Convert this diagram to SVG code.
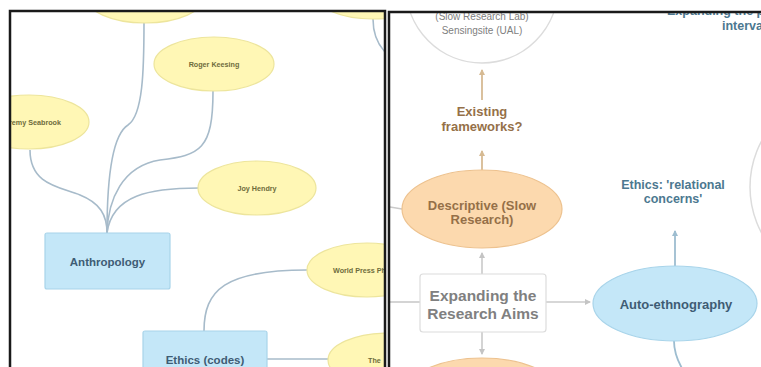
<svg xmlns="http://www.w3.org/2000/svg" width="761" height="367" viewBox="0 0 761 367">
<style>
.yel{fill:#FFF7B5;stroke:#EDE59C;stroke-width:1.2}
.blue{fill:#C4E7F8;stroke:#A8D4EA;stroke-width:1.2}
.peach{fill:#FCD9AE;stroke:#EDC28F;stroke-width:1.2}
.ring{fill:#FFFFFF;stroke:#DCDCDC;stroke-width:1.5}
.ytxt{font-family:"Liberation Sans",Arial,sans-serif;font-size:7.2px;font-weight:bold;fill:#6E6C3C}
.btxt{font-family:"Liberation Sans",Arial,sans-serif;font-weight:bold;fill:#3E5C74}
.ptxt{font-family:"Liberation Sans",Arial,sans-serif;font-size:13px;font-weight:bold;fill:#957048}
.gtxt{font-family:"Liberation Sans",Arial,sans-serif;fill:#808080}
.ttxt{font-family:"Liberation Sans",Arial,sans-serif;font-size:12.5px;font-weight:bold;fill:#4C7890}
.lc{fill:none;stroke:#A7BBCA;stroke-width:1.6}
.tan{fill:none;stroke:#D6BA93;stroke-width:1.8}
.gry{fill:none;stroke:#CACACA;stroke-width:1.6}
.blu{fill:none;stroke:#9DBDD0;stroke-width:1.8}
.border{fill:none;stroke:#1A1A1A;stroke-width:2.5}
</style>
<defs>
<clipPath id="cl"><rect x="11" y="12" width="373" height="360"/></clipPath>
<clipPath id="cr"><rect x="390" y="13" width="380" height="360"/></clipPath>
<marker id="aTan" markerWidth="6" markerHeight="6" refX="5" refY="3" orient="auto" markerUnits="userSpaceOnUse"><path d="M0,0 L6,3 L0,6 Z" fill="#D6BA93"/></marker>
<marker id="aGry" markerWidth="6" markerHeight="6" refX="5" refY="3" orient="auto" markerUnits="userSpaceOnUse"><path d="M0,0 L6,3 L0,6 Z" fill="#C4C4C4"/></marker>
<marker id="aBlu" markerWidth="6" markerHeight="6" refX="5" refY="3" orient="auto" markerUnits="userSpaceOnUse"><path d="M0,0 L6,3 L0,6 Z" fill="#9DBDD0"/></marker>
</defs>
<rect width="761" height="367" fill="#FFFFFF"/>

<g clip-path="url(#cl)">
<g id="connectors-left">
<path class="lc" d="M144,22 C144,70 143,115 128,125 C112,135 107,180 107,233"/>
<path class="lc" d="M213,91 C213,150 200,155 160,160 C122,166 108,200 107,233"/>
<path class="lc" d="M30,150 C30,185 60,187 80,195 C100,203 107,215 107,233"/>
<path class="lc" d="M199,188 C150,188 112,195 107,233"/>
<path class="lc" d="M204,331 C204,290 225,270 307,270"/>
<path class="lc" d="M267,359 H330"/>
<path class="lc" d="M373,19 C373,35 378,45 386,53"/>
</g>
<g id="n-top-left"><ellipse class="yel" cx="145" cy="-4" rx="60" ry="27"/></g>
<g id="n-top-right"><ellipse class="yel" cx="373" cy="-8" rx="60" ry="27"/></g>
<g id="n-roger"><ellipse class="yel" cx="214" cy="64" rx="60" ry="27"/><text class="ytxt" x="214" y="66.5" text-anchor="middle">Roger Keesing</text></g>
<g id="n-jeremy"><ellipse class="yel" cx="29" cy="122" rx="60" ry="27"/><text class="ytxt" x="61" y="124.5" text-anchor="end">Jeremy Seabrook</text></g>
<g id="n-joy"><ellipse class="yel" cx="257" cy="188" rx="59" ry="27"/><text class="ytxt" x="257" y="190.5" text-anchor="middle">Joy Hendry</text></g>
<g id="n-anthropology"><rect class="blue" x="45" y="233" width="125" height="56" rx="2"/><text class="btxt" x="107.5" y="266" font-size="11.5" text-anchor="middle">Anthropology</text></g>
<g id="n-ethics-codes"><rect class="blue" x="143" y="331" width="124" height="50" rx="2"/><text class="btxt" x="205" y="364" font-size="11.5" text-anchor="middle">Ethics (codes)</text></g>
<g id="n-worldpress"><ellipse class="yel" cx="367" cy="270" rx="60" ry="27"/><text class="ytxt" x="333" y="272.5">World Press Photo</text></g>
<g id="n-the"><ellipse class="yel" cx="388" cy="360" rx="60" ry="27"/><text class="ytxt" x="368" y="362.5">The</text></g>
</g>

<g clip-path="url(#cr)">
<g id="connectors-right">
<path class="gry" d="M390,207 L402,209"/>
<path class="gry" d="M390,302 H420"/>
<path class="tan" d="M482,100 V70" marker-end="url(#aTan)"/>
<path class="tan" d="M482,170 V151" marker-end="url(#aTan)"/>
<path class="gry" d="M482,274 V253" marker-end="url(#aGry)"/>
<path class="gry" d="M546,302 H590" marker-end="url(#aGry)"/>
<path class="gry" d="M482,332 V354" marker-end="url(#aGry)"/>
<path class="blu" d="M675,266 V231" marker-end="url(#aBlu)"/>
<path class="blu" d="M674,341 C674,352 677,360 683,370"/>
</g>
<g id="n-sensingsite"><circle class="ring" cx="482" cy="-13" r="76"/>
<text class="gtxt" x="482" y="20" font-size="10" text-anchor="middle">(Slow Research Lab)</text>
<text class="gtxt" x="482" y="33.5" font-size="10" text-anchor="middle">Sensingsite (UAL)</text></g>
<g id="n-existing"><text class="ptxt" x="482" y="116" text-anchor="middle">Existing</text><text class="ptxt" x="482" y="131" text-anchor="middle">frameworks?</text></g>
<g id="n-descriptive"><ellipse class="peach" cx="482" cy="209" rx="80" ry="39"/><text class="ptxt" x="482" y="209.5" text-anchor="middle">Descriptive (Slow</text><text class="ptxt" x="482" y="224" text-anchor="middle">Research)</text></g>
<g id="n-expanding"><rect x="420" y="274" width="126" height="58" rx="3" fill="#FFFFFF" stroke="#DCDCDC" stroke-width="1.2"/><text class="gtxt" x="483" y="300.5" font-size="15.5" font-weight="bold" text-anchor="middle">Expanding the</text><text class="gtxt" x="483" y="318.5" font-size="15.5" font-weight="bold" text-anchor="middle">Research Aims</text></g>
<g id="n-bottom-peach"><ellipse class="peach" cx="482" cy="397" rx="80" ry="39"/></g>
<g id="n-autoethno"><ellipse class="blue" cx="675" cy="303.5" rx="82" ry="37.5"/><text class="btxt" x="676" y="308.5" font-size="13" text-anchor="middle">Auto-ethnography</text></g>
<g id="n-ethics-rel"><text class="ttxt" x="673" y="188.5" text-anchor="middle">Ethics: 'relational</text><text class="ttxt" x="673" y="203" text-anchor="middle">concerns'</text></g>
<g id="n-right-ring"><circle class="ring" cx="847" cy="187" r="97"/></g>
<g id="n-interval"><text class="ttxt" x="667" y="14.5" fill="#4A6E85">Expanding the p</text><text class="ttxt" x="722" y="29.5" fill="#4A6E85">interval</text></g>
</g>

<path class="border" d="M10,370 V11 H385 V370"/>
<path class="border" d="M389,370 V12 H765"/>
</svg>
